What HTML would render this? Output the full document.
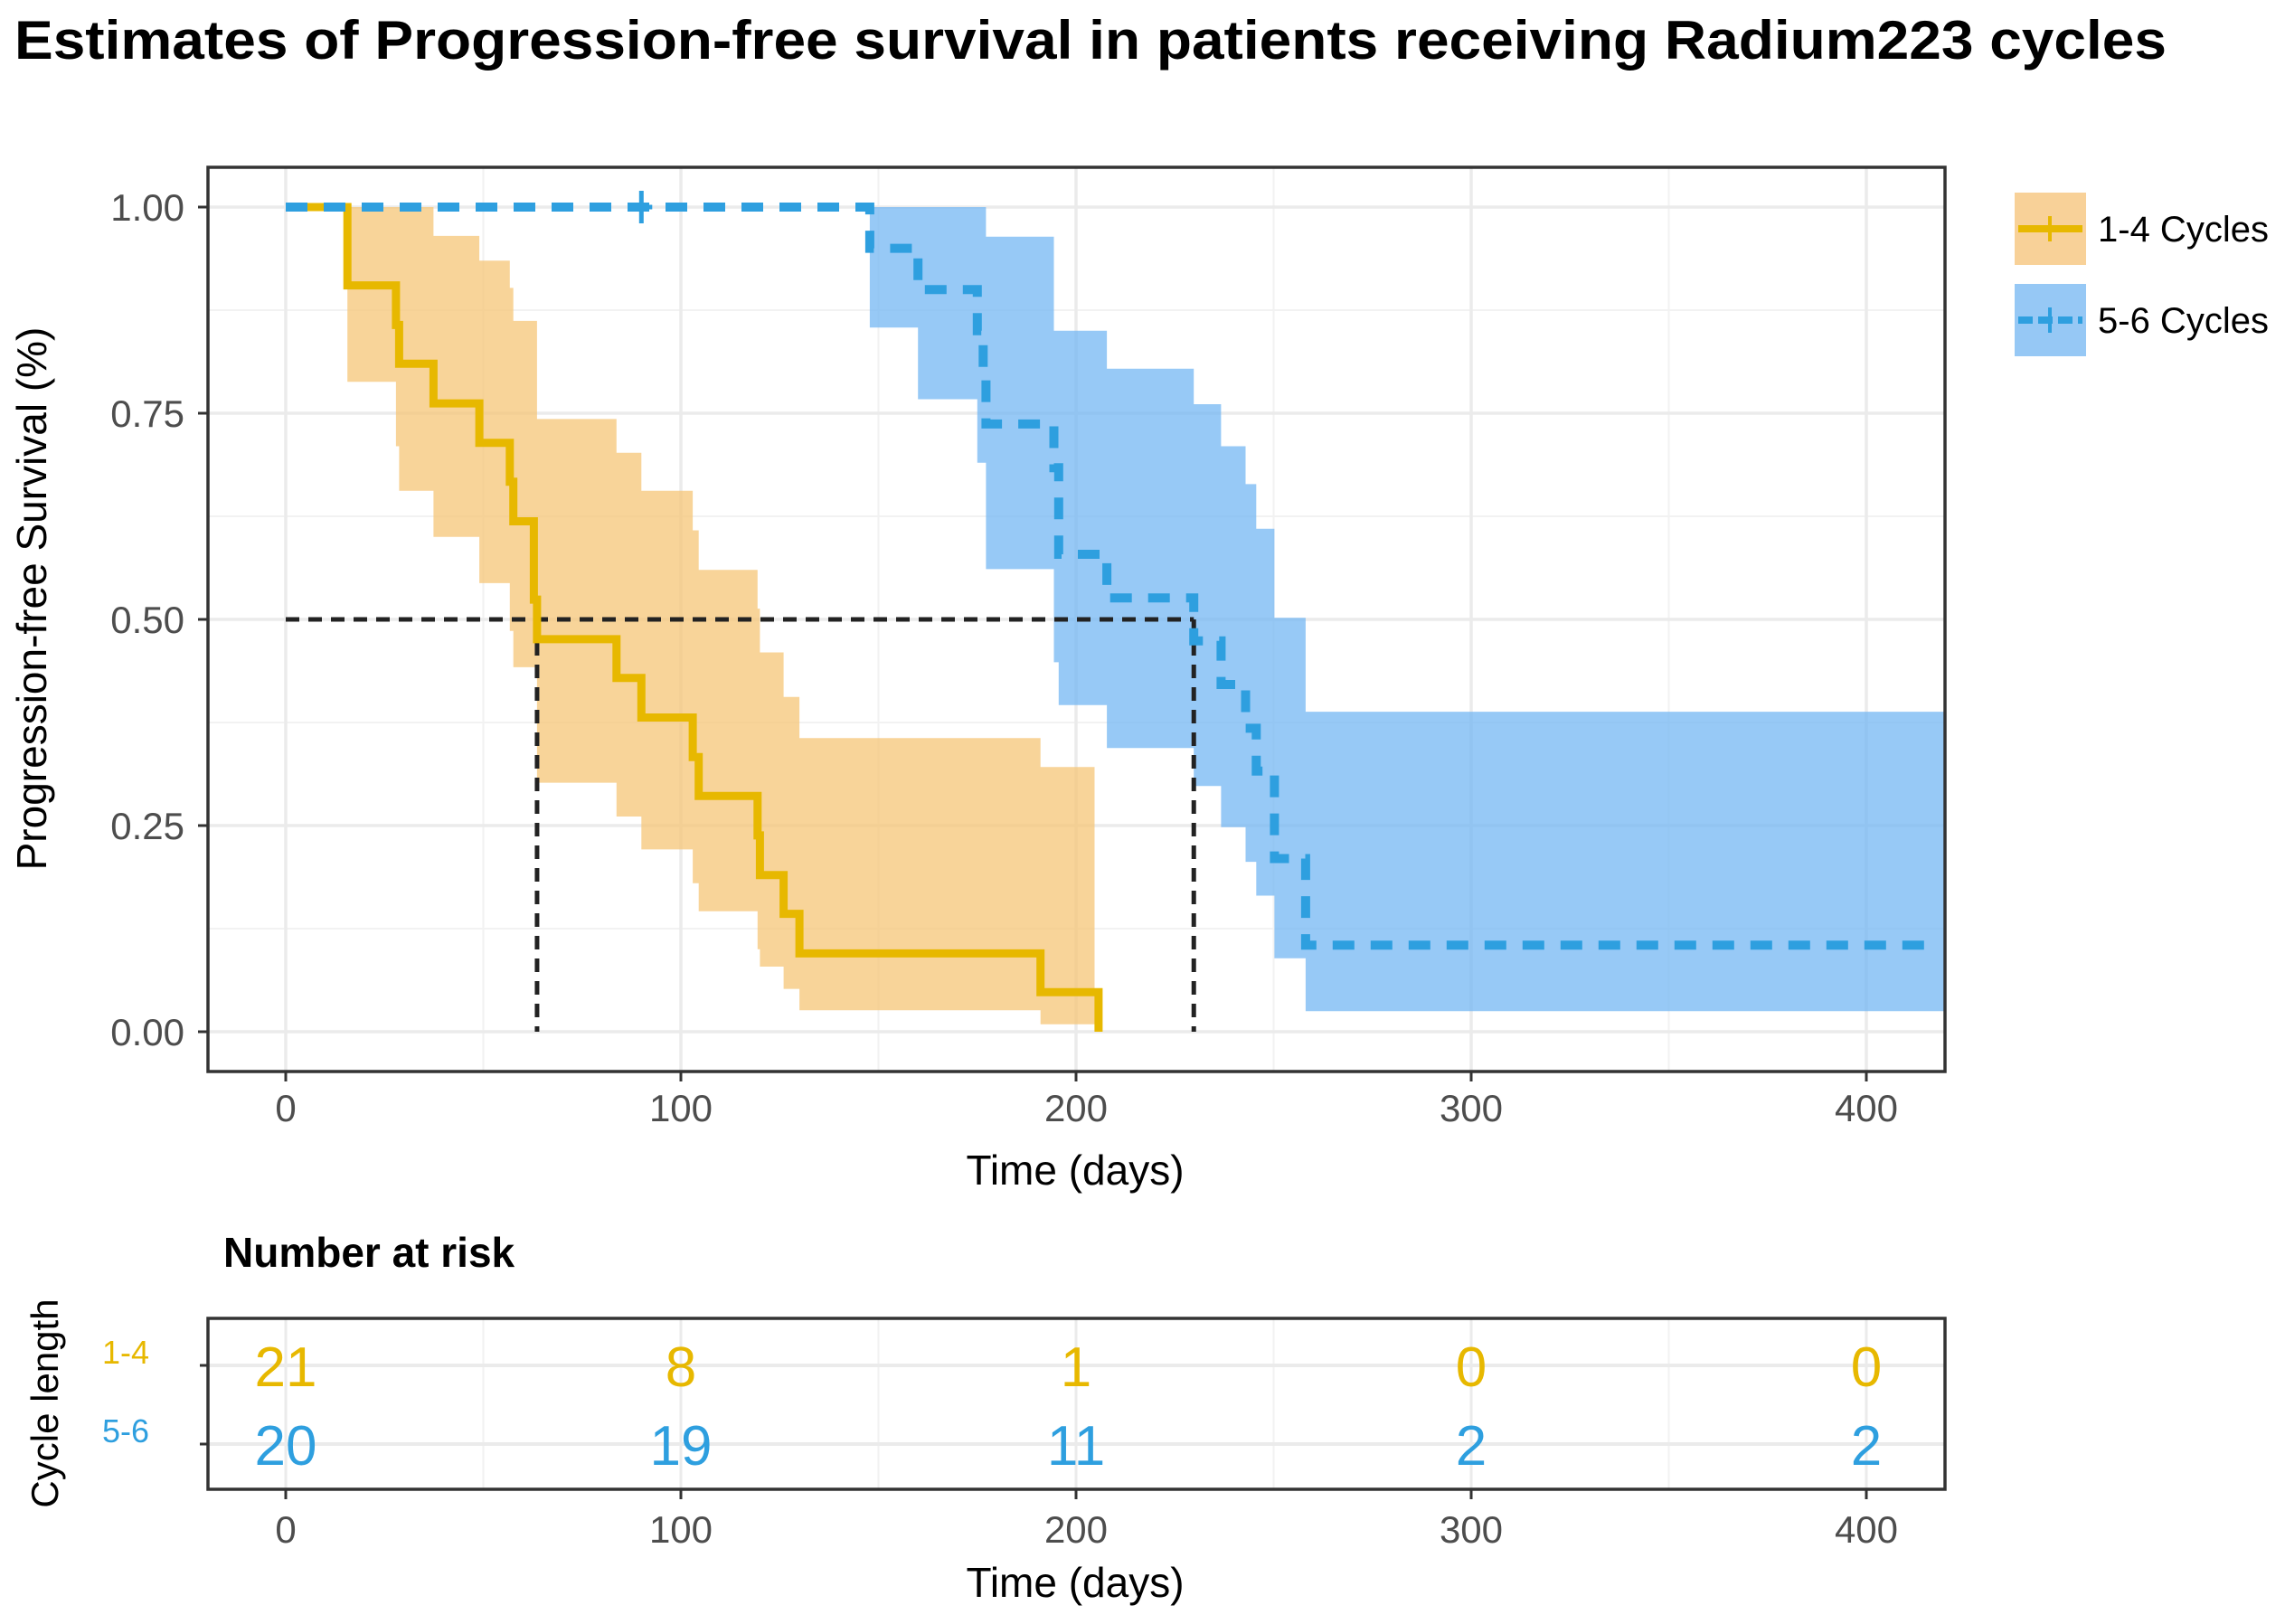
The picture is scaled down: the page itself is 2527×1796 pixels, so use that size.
<!DOCTYPE html>
<html><head><meta charset="utf-8"><style>
html,body{margin:0;padding:0;background:#fff;}
svg{display:block;font-family:"Liberation Sans",Arial,sans-serif;}
</style></head><body>
<svg id="chart" width="2527" height="1796" viewBox="0 0 2527 1796" xmlns="http://www.w3.org/2000/svg">
<text x="16" y="65" font-size="60" font-weight="bold" fill="#000" textLength="2380" lengthAdjust="spacingAndGlyphs">Estimates of Progression-free survival in patients receiving Radium223 cycles</text>
<g id="main"></g>
<g id="risk"></g>
</svg>
<script>
// ---- data ----
const xTicks = [0, 100, 200, 300, 400];
const yTicks = [0, 0.25, 0.5, 0.75, 1.0];
const yTickLabels = ["0.00", "0.25", "0.50", "0.75", "1.00"];
const orangeTimes = [0, 15.6, 27.9, 28.7, 37.4, 49, 56.7, 57.6, 62.8, 63.6, 83.7, 90, 103, 104.5, 119.4, 120, 126, 130, 191, 205.7];
const orangeSurv  = [1, .905, .857, .810, .762, .714, .667, .619, .524, .476, .429, .381, .333, .286, .238, .190, .143, .095, .048, 0];
const orangeLower = [1, .788, .71, .656, .60, .544, .486, .442, .442, .302, .261, .221, .18, .146, .10, .079, .052, .026, .009, 0];
const orangeUpper = [1, 1, 1, 1, .965, .935, .902, .862, .862, .743, .702, .656, .608, .56, .513, .46, .406, .356, .321, 0];
const orangeBandEnd = 204.7;
const blueTimes = [0, 147.8, 160, 175, 176.5, 177.2, 194.4, 195.6, 207.8, 229.8, 236.7, 242.9, 245.6, 250.2, 258.1];
const blueSurv  = [1, .95, .90, .85, .80, .737, .684, .579, .526, .474, .421, .368, .316, .21, .105];
const blueLower = [1, .854, .767, .69, .69, .561, .448, .396, .344, .298, .248, .206, .165, .089, .025];
const blueUpper = [1, 1, 1, 1, 1, .964, .85, .85, .804, .761, .71, .664, .61, .502, .388];
const blueLineEnd = 415;
const blueCensor = [90];
const medians = [63.6, 229.8];
const riskGroups = ["1-4", "5-6"];
const riskOrange = [21, 8, 1, 0, 0];
const riskBlue = [20, 19, 11, 2, 2];

// ---- geometry ----
const NS = "http://www.w3.org/2000/svg";
const P = {l: 230, r: 2151, t: 185, b: 1185};
const xMin = -19.7, xMax = 419.8;
const X = d => 316 + (d - 0) * 4.37;
const Y = v => 1141 - v * 912;
const OR = "#E7B800", BL = "#2E9FDF";
function el(tag, attrs, parent) {
  const e = document.createElementNS(NS, tag);
  for (const k in attrs) e.setAttribute(k, attrs[k]);
  parent.appendChild(e);
  return e;
}
const main = document.getElementById("main");
const risk = document.getElementById("risk");

el("rect", {x: P.l, y: P.t, width: P.r - P.l, height: P.b - P.t, fill: "#fff"}, main);
for (let i = 0; i < yTicks.length - 1; i++) {
  const v = (yTicks[i] + yTicks[i + 1]) / 2;
  const g = el("line", {x1: P.l, x2: P.r, y1: Y(v), y2: Y(v), stroke: "#F2F2F2", "stroke-width": 2}, main);
  
  
}
for (let i = 0; i < xTicks.length; i++) {
  const d = xTicks[i] + 50;
  if (X(d) < P.r) {
    const g = el("line", {x1: X(d), x2: X(d), y1: P.t, y2: P.b, stroke: "#F2F2F2", "stroke-width": 2}, main);
    
    
  }
}
yTicks.forEach((v, i) => {
  const g = el("line", {x1: P.l, x2: P.r, y1: Y(v), y2: Y(v), stroke: "#EBEBEB", "stroke-width": 3.5}, main);
  
  
  const tk = el("line", {x1: P.l - 11, x2: P.l, y1: Y(v), y2: Y(v), stroke: "#333", "stroke-width": 3}, main);
  
  
  const t = el("text", {x: 204, y: Y(v) + 15, "font-size": 42, fill: "#4D4D4D", "text-anchor": "end"}, main);
  t.textContent = yTickLabels[i];
  
  
});
xTicks.forEach(d => {
  const g = el("line", {x1: X(d), x2: X(d), y1: P.t, y2: P.b, stroke: "#EBEBEB", "stroke-width": 3.5}, main);
  
  
  const tk = el("line", {x1: X(d), x2: X(d), y1: P.b, y2: P.b + 11, stroke: "#333", "stroke-width": 3}, main);
  
  
  const t = el("text", {x: X(d), y: 1240, "font-size": 42, fill: "#4D4D4D", "text-anchor": "middle"}, main);
  t.textContent = d;
  
  
});

function bandPath(times, lo, hi, start, end) {
  let up = [], dn = [];
  for (let i = start; i < times.length; i++) {
    const t0 = times[i], t1 = (i + 1 < times.length) ? Math.min(times[i + 1], end) : end;
    if (t0 >= end) break;
    up.push([X(t0), Y(hi[i])], [X(t1), Y(hi[i])]);
    dn.push([X(t0), Y(lo[i])], [X(t1), Y(lo[i])]);
  }
  const pts = up.concat(dn.reverse());
  return "M" + pts.map(p => p[0].toFixed(1) + "," + p[1].toFixed(1)).join("L") + "Z";
}
const ob = el("path", {d: bandPath(orangeTimes, orangeLower, orangeUpper, 1, orangeBandEnd), fill: "#F6C677", "fill-opacity": 0.75}, main);


const bb = el("path", {d: bandPath(blueTimes, blueLower, blueUpper, 1, xMax), fill: "#6FB4F2", "fill-opacity": 0.72}, main);



const ml = el("path", {d: `M${X(0)},${Y(0.5)}H${X(medians[1])}`, stroke: "#222", "stroke-width": 5, "stroke-dasharray": "15 10", fill: "none"}, main);


medians.forEach(m => {
  const v = el("path", {d: `M${X(m)},${Y(0.5)}V${Y(0)}`, stroke: "#222", "stroke-width": 5, "stroke-dasharray": "15 10", fill: "none"}, main);
  
  
});

function stepPath(times, surv, end) {
  let d = `M${X(times[0])},${Y(surv[0])}`;
  for (let i = 1; i < times.length; i++) d += `H${X(times[i]).toFixed(1)}V${Y(surv[i]).toFixed(1)}`;
  if (end !== undefined) d += `H${X(end)}`;
  return d;
}
const oc = el("path", {d: stepPath(orangeTimes, orangeSurv), stroke: OR, "stroke-width": 9, fill: "none"}, main);


const bc = el("path", {d: stepPath(blueTimes, blueSurv, blueLineEnd), stroke: BL, "stroke-width": 10, fill: "none", "stroke-dasharray": "24 18"}, main);


blueCensor.forEach(c => {
  const cm = el("path", {d: `M${X(c) - 12},${Y(1)}H${X(c) + 12}M${X(c)},${Y(1) - 18}V${Y(1) + 18}`, stroke: BL, "stroke-width": 5}, main);
  
  
});

el("rect", {x: P.l, y: P.t, width: P.r - P.l, height: P.b - P.t, fill: "none", stroke: "#333", "stroke-width": 3.5}, main);

const xt = el("text", {x: 1189, y: 1310, "font-size": 46, fill: "#000", "text-anchor": "middle"}, main);
xt.textContent = "Time (days)";


const yt = el("text", {x: 0, y: 0, "font-size": 46, fill: "#000", "text-anchor": "middle", transform: "translate(51,662) rotate(-90)"}, main);
yt.textContent = "Progression-free Survival (%)";



[[OR, "#F8D198", "1-4 Cycles", 213, false], [BL, "#96C8F5", "5-6 Cycles", 314, true]].forEach(([c, f, lab, y, dash]) => {
  const g = el("g", {}, main);
  
  
  el("rect", {x: 2228, y: y, width: 79, height: 80, fill: f}, g);
  el("line", {x1: 2232, x2: 2303, y1: y + 40, y2: y + 40, stroke: c, "stroke-width": 8, "stroke-dasharray": dash ? "16 6" : "none"}, g);
  el("line", {x1: 2267, x2: 2267, y1: y + 26, y2: y + 54, stroke: c, "stroke-width": 4}, g);
  const t = el("text", {x: 2320, y: y + 54, "font-size": 40, fill: "#000"}, g);
  t.textContent = lab;
});

// ---- risk table ----
const R = {l: 230, r: 2151, t: 1458, b: 1647};
const rowY = [1510, 1597];
const rt = el("text", {x: 247, y: 1401, "font-size": 46, "font-weight": "bold", fill: "#000"}, risk);
rt.textContent = "Number at risk";


el("rect", {x: R.l, y: R.t, width: R.r - R.l, height: R.b - R.t, fill: "#fff"}, risk);
xTicks.forEach(d => {
  if (X(d + 50) < R.r) el("line", {x1: X(d + 50), x2: X(d + 50), y1: R.t, y2: R.b, stroke: "#F2F2F2", "stroke-width": 2}, risk);
  el("line", {x1: X(d), x2: X(d), y1: R.t, y2: R.b, stroke: "#EBEBEB", "stroke-width": 3}, risk);
  el("line", {x1: X(d), x2: X(d), y1: R.b, y2: R.b + 11, stroke: "#333", "stroke-width": 3}, risk);
  const t = el("text", {x: X(d), y: 1706, "font-size": 42, fill: "#4D4D4D", "text-anchor": "middle"}, risk);
  t.textContent = d;
  
  
});
rowY.forEach((y, i) => {
  el("line", {x1: R.l, x2: R.r, y1: y, y2: y, stroke: "#EBEBEB", "stroke-width": 4}, risk);
  el("line", {x1: R.l - 9, x2: R.l, y1: y, y2: y, stroke: "#333", "stroke-width": 3}, risk);
  const lab = el("text", {x: 139, y: y - 2, "font-size": 36, fill: i ? BL : OR, "text-anchor": "middle"}, risk);
  lab.textContent = riskGroups[i];
  
  
});
xTicks.forEach((d, i) => {
  const a = el("text", {x: X(d), y: rowY[0] + 23, "font-size": 62, fill: OR, "text-anchor": "middle"}, risk);
  a.textContent = riskOrange[i];
  
  
  const b = el("text", {x: X(d), y: rowY[1] + 23, "font-size": 62, fill: BL, "text-anchor": "middle"}, risk);
  b.textContent = riskBlue[i];
  
  
});
el("rect", {x: R.l, y: R.t, width: R.r - R.l, height: R.b - R.t, fill: "none", stroke: "#333", "stroke-width": 3.5}, risk);
const ryt = el("text", {x: 0, y: 0, "font-size": 42, fill: "#000", "text-anchor": "middle", transform: "translate(64,1552) rotate(-90)"}, risk);
ryt.textContent = "Cycle length";


const rxt = el("text", {x: 1189, y: 1766, "font-size": 46, fill: "#000", "text-anchor": "middle"}, risk);
rxt.textContent = "Time (days)";


</script>
</body></html>
